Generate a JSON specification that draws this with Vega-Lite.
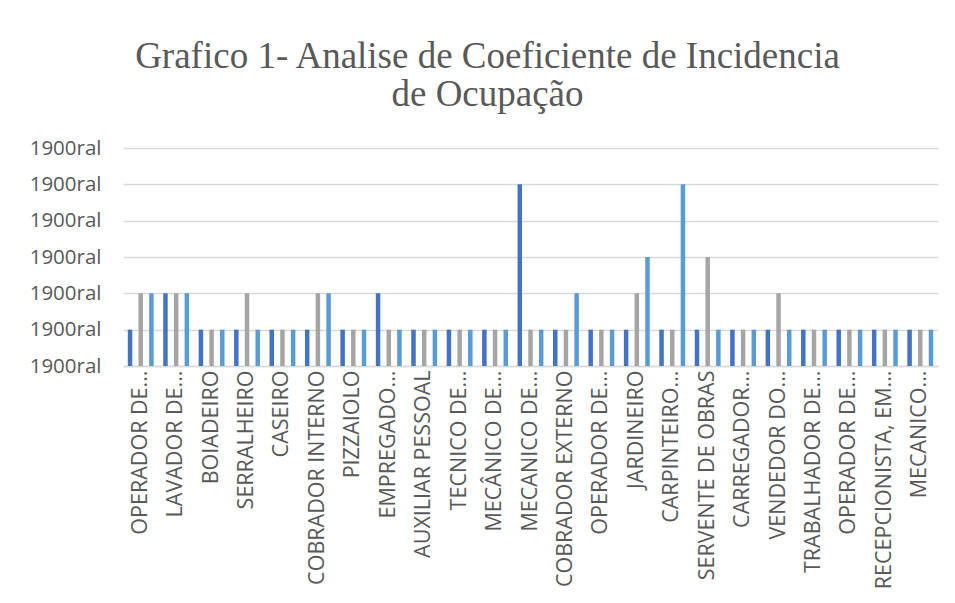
{
  "$schema": "https://vega.github.io/schema/vega-lite/v6.json",
  "width": 815,
  "height": 218,
  "autosize": {"type": "none"},
  "padding": {"left": 123, "top": 148, "right": 17, "bottom": 237},
  "background": "white",
  "title": {
    "text": ["Grafico 1- Analise de Coeficiente de Incidencia", "de Ocupação"],
    "font": "Liberation Serif",
    "fontSize": 37,
    "fontWeight": "normal",
    "color": "#595959",
    "lineHeight": 38,
    "anchor": "middle",
    "dx": -43,
    "offset": 24
  },
  "data": {
    "values": [
      {"ocupacao": "OPERADOR DE...", "serie": "Série 1", "valor": 1},
      {"ocupacao": "OPERADOR DE...", "serie": "Série 2", "valor": 2},
      {"ocupacao": "OPERADOR DE...", "serie": "Série 3", "valor": 2},
      {"ocupacao": "LAVADOR DE...", "serie": "Série 1", "valor": 2},
      {"ocupacao": "LAVADOR DE...", "serie": "Série 2", "valor": 2},
      {"ocupacao": "LAVADOR DE...", "serie": "Série 3", "valor": 2},
      {"ocupacao": "BOIADEIRO", "serie": "Série 1", "valor": 1},
      {"ocupacao": "BOIADEIRO", "serie": "Série 2", "valor": 1},
      {"ocupacao": "BOIADEIRO", "serie": "Série 3", "valor": 1},
      {"ocupacao": "SERRALHEIRO", "serie": "Série 1", "valor": 1},
      {"ocupacao": "SERRALHEIRO", "serie": "Série 2", "valor": 2},
      {"ocupacao": "SERRALHEIRO", "serie": "Série 3", "valor": 1},
      {"ocupacao": "CASEIRO", "serie": "Série 1", "valor": 1},
      {"ocupacao": "CASEIRO", "serie": "Série 2", "valor": 1},
      {"ocupacao": "CASEIRO", "serie": "Série 3", "valor": 1},
      {"ocupacao": "COBRADOR INTERNO", "serie": "Série 1", "valor": 1},
      {"ocupacao": "COBRADOR INTERNO", "serie": "Série 2", "valor": 2},
      {"ocupacao": "COBRADOR INTERNO", "serie": "Série 3", "valor": 2},
      {"ocupacao": "PIZZAIOLO", "serie": "Série 1", "valor": 1},
      {"ocupacao": "PIZZAIOLO", "serie": "Série 2", "valor": 1},
      {"ocupacao": "PIZZAIOLO", "serie": "Série 3", "valor": 1},
      {"ocupacao": "EMPREGADO...", "serie": "Série 1", "valor": 2},
      {"ocupacao": "EMPREGADO...", "serie": "Série 2", "valor": 1},
      {"ocupacao": "EMPREGADO...", "serie": "Série 3", "valor": 1},
      {"ocupacao": "AUXILIAR PESSOAL", "serie": "Série 1", "valor": 1},
      {"ocupacao": "AUXILIAR PESSOAL", "serie": "Série 2", "valor": 1},
      {"ocupacao": "AUXILIAR PESSOAL", "serie": "Série 3", "valor": 1},
      {"ocupacao": "TECNICO DE...", "serie": "Série 1", "valor": 1},
      {"ocupacao": "TECNICO DE...", "serie": "Série 2", "valor": 1},
      {"ocupacao": "TECNICO DE...", "serie": "Série 3", "valor": 1},
      {"ocupacao": "MECÂNICO DE...", "serie": "Série 1", "valor": 1},
      {"ocupacao": "MECÂNICO DE...", "serie": "Série 2", "valor": 1},
      {"ocupacao": "MECÂNICO DE...", "serie": "Série 3", "valor": 1},
      {"ocupacao": "MECANICO DE...", "serie": "Série 1", "valor": 5},
      {"ocupacao": "MECANICO DE...", "serie": "Série 2", "valor": 1},
      {"ocupacao": "MECANICO DE...", "serie": "Série 3", "valor": 1},
      {"ocupacao": "COBRADOR EXTERNO", "serie": "Série 1", "valor": 1},
      {"ocupacao": "COBRADOR EXTERNO", "serie": "Série 2", "valor": 1},
      {"ocupacao": "COBRADOR EXTERNO", "serie": "Série 3", "valor": 2},
      {"ocupacao": "OPERADOR DE...\u200b", "serie": "Série 1", "valor": 1},
      {"ocupacao": "OPERADOR DE...\u200b", "serie": "Série 2", "valor": 1},
      {"ocupacao": "OPERADOR DE...\u200b", "serie": "Série 3", "valor": 1},
      {"ocupacao": "JARDINEIRO", "serie": "Série 1", "valor": 1},
      {"ocupacao": "JARDINEIRO", "serie": "Série 2", "valor": 2},
      {"ocupacao": "JARDINEIRO", "serie": "Série 3", "valor": 3},
      {"ocupacao": "CARPINTEIRO...", "serie": "Série 1", "valor": 1},
      {"ocupacao": "CARPINTEIRO...", "serie": "Série 2", "valor": 1},
      {"ocupacao": "CARPINTEIRO...", "serie": "Série 3", "valor": 5},
      {"ocupacao": "SERVENTE DE OBRAS", "serie": "Série 1", "valor": 1},
      {"ocupacao": "SERVENTE DE OBRAS", "serie": "Série 2", "valor": 3},
      {"ocupacao": "SERVENTE DE OBRAS", "serie": "Série 3", "valor": 1},
      {"ocupacao": "CARREGADOR...", "serie": "Série 1", "valor": 1},
      {"ocupacao": "CARREGADOR...", "serie": "Série 2", "valor": 1},
      {"ocupacao": "CARREGADOR...", "serie": "Série 3", "valor": 1},
      {"ocupacao": "VENDEDOR DO...", "serie": "Série 1", "valor": 1},
      {"ocupacao": "VENDEDOR DO...", "serie": "Série 2", "valor": 2},
      {"ocupacao": "VENDEDOR DO...", "serie": "Série 3", "valor": 1},
      {"ocupacao": "TRABALHADOR DE...", "serie": "Série 1", "valor": 1},
      {"ocupacao": "TRABALHADOR DE...", "serie": "Série 2", "valor": 1},
      {"ocupacao": "TRABALHADOR DE...", "serie": "Série 3", "valor": 1},
      {"ocupacao": "OPERADOR DE...\u200b\u200b", "serie": "Série 1", "valor": 1},
      {"ocupacao": "OPERADOR DE...\u200b\u200b", "serie": "Série 2", "valor": 1},
      {"ocupacao": "OPERADOR DE...\u200b\u200b", "serie": "Série 3", "valor": 1},
      {"ocupacao": "RECEPCIONISTA, EM...", "serie": "Série 1", "valor": 1},
      {"ocupacao": "RECEPCIONISTA, EM...", "serie": "Série 2", "valor": 1},
      {"ocupacao": "RECEPCIONISTA, EM...", "serie": "Série 3", "valor": 1},
      {"ocupacao": "MECANICO...", "serie": "Série 1", "valor": 1},
      {"ocupacao": "MECANICO...", "serie": "Série 2", "valor": 1},
      {"ocupacao": "MECANICO...", "serie": "Série 3", "valor": 1}
    ]
  },
  "mark": {"type": "bar"},
  "encoding": {
    "x": {
      "field": "ocupacao",
      "type": "nominal",
      "sort": null,
      "scale": {"paddingInner": 0, "paddingOuter": 0},
      "axis": {
        "title": null,
        "labelAngle": -90,
        "labelAlign": "right",
        "labelBaseline": "middle",
        "labelPadding": 4,
        "labelFont": "Open Sans",
        "labelFontSize": 21.5,
        "labelColor": "#595959",
        "labelLimit": 0,
        "labelOverlap": false,
        "ticks": false,
        "domainColor": "#D9D9D9",
        "domainWidth": 1.5,
        "grid": false
      }
    },
    "xOffset": {
      "field": "serie",
      "type": "nominal",
      "scale": {"paddingInner": 0.58, "paddingOuter": 0.447}
    },
    "y": {
      "field": "valor",
      "type": "quantitative",
      "scale": {"domain": [0, 6], "nice": false},
      "axis": {
        "title": null,
        "values": [0, 1, 2, 3, 4, 5, 6],
        "labelExpr": "'1900ral'",
        "labelFont": "Open Sans",
        "labelFontSize": 20.5,
        "labelColor": "#595959",
        "labelPadding": 22,
        "ticks": false,
        "domain": false,
        "gridColor": "#D9D9D9",
        "gridWidth": 1.5
      }
    },
    "color": {
      "field": "serie",
      "type": "nominal",
      "scale": {"range": ["#4472C4", "#A5A5A5", "#5B9BD5"]},
      "legend": null
    }
  },
  "config": {
    "view": {"stroke": null}
  }
}
